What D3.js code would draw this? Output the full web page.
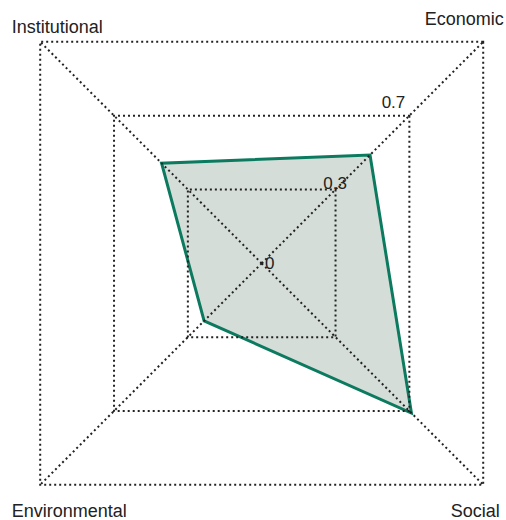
<!DOCTYPE html>
<html>
<head>
<meta charset="utf-8">
<script src="https://cdn.jsdelivr.net/npm/d3@7"></script>
<style>
  html, body { margin: 0; padding: 0; background: #fff; }
  svg { display: block; font-family: "Liberation Sans", Arial, Helvetica, sans-serif; }
</style>
</head>
<body>
<svg id="chart" width="506" height="520"></svg>
<script>
// ---- data ----
const axes = ["Economic", "Social", "Environmental", "Institutional"];
const values = [0.489, 0.676, 0.26, 0.452];
const gridLevels = [1 / 3, 2 / 3, 1];
const tickValues = [0, 1 / 3, 2 / 3];
const tickLabels = ["0", "0.3", "0.7"];

// ---- layout ----
const cx = 261.7, cy = 263.3;
const R = 221.5; // half-side of outer square
const svg = d3.select("#chart");

const r = d3.scaleLinear().domain([0, 1]).range([0, R]);
const angle = d3.scaleOrdinal().domain(axes).range([-Math.PI / 4, Math.PI / 4, 3 * Math.PI / 4, -3 * Math.PI / 4]);
function pt(axis, v) {
  const a = angle(axis);
  const d = r(v) * Math.SQRT2;
  return [cx + d * Math.cos(a), cy + d * Math.sin(a)];
}

// polygon
const poly = axes.map((a, i) => pt(a, values[i]));
svg.append("path")
  .attr("d", d3.line()(poly) + "Z")
  .attr("fill", "#d5ddd8")
  .attr("stroke", "#0b7a5e")
  .attr("stroke-width", 3)
  .attr("stroke-linejoin", "miter");

const dotStyle = sel => sel
  .attr("fill", "none")
  .attr("stroke", "#222")
  .attr("stroke-width", 2)
  .attr("stroke-dasharray", "2,3");

// grid squares
svg.append("g").selectAll("path").data(gridLevels).join("path")
  .attr("d", lv => d3.line()(axes.map(a => pt(a, lv))) + "Z")
  .call(dotStyle);

// axis lines
svg.append("g").selectAll("line").data(axes).join("line")
  .attr("x1", cx).attr("y1", cy)
  .attr("x2", a => pt(a, 1)[0]).attr("y2", a => pt(a, 1)[1])
  .call(dotStyle);

// tick labels
svg.append("g").selectAll("text").data(tickValues).join("text")
  .attr("x", v => cx + 3.3 + r(v) * 0.79)
  .attr("y", v => cy + 5.7 - r(v) * 1.09)
  .attr("font-size", 17)
  .attr("fill", "#222")
  .text((v, i) => tickLabels[i]);

// axis labels
const labelPos = {
  "Economic":      { anchor: "end",   dx: 242, dy: -238 },
  "Social":        { anchor: "end",   dx: 238, dy: 254 },
  "Environmental": { anchor: "start", dx: -250, dy: 254 },
  "Institutional": { anchor: "start", dx: -250, dy: -230 }
};
svg.append("g").selectAll("text").data(axes).join("text")
  .attr("x", a => cx + labelPos[a].dx)
  .attr("y", a => cy + labelPos[a].dy)
  .attr("text-anchor", a => labelPos[a].anchor)
  .attr("font-size", 18)
  .attr("fill", "#222")
  .text(a => a);
</script>
</body>
</html>
